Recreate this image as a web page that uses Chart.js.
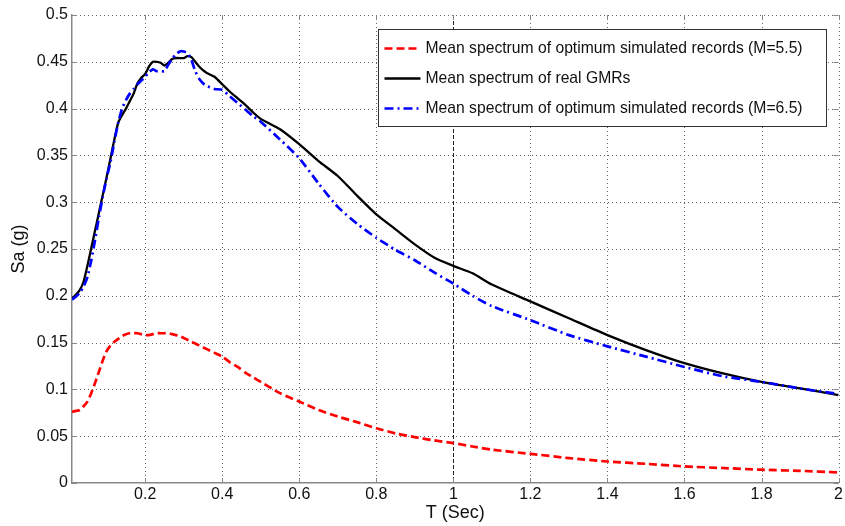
<!DOCTYPE html>
<html><head><meta charset="utf-8">
<script src="https://cdn.jsdelivr.net/npm/chart.js@4/dist/chart.umd.min.js"></script>
<style>html,body{margin:0;padding:0;background:#fff}#wrap{width:845px;height:526px}</style>
</head><body><div id="wrap"><canvas id="c" width="845" height="526"></canvas></div>
<script>
const periods = [0.01,0.02,0.03,0.04,0.05,0.06,0.07,0.08,0.09,0.10,0.11,0.12,0.13,0.14,0.15,0.16,0.17,0.18,0.19,0.20,0.21,0.22,0.23,0.24,0.25,0.26,0.27,0.28,0.29,0.30,0.31,0.32,0.33,0.34,0.35,0.36,0.38,0.40,0.42,0.44,0.46,0.48,0.50,0.55,0.60,0.65,0.70,0.75,0.80,0.85,0.90,0.95,1.00,1.05,1.10,1.20,1.30,1.40,1.50,1.60,1.70,1.80,1.90,2.00];
const saM55 = [0.076,0.077,0.078,0.082,0.087,0.096,0.107,0.119,0.131,0.141,0.147,0.151,0.154,0.157,0.159,0.160,0.160,0.160,0.159,0.158,0.158,0.159,0.160,0.160,0.160,0.160,0.159,0.158,0.157,0.155,0.153,0.151,0.149,0.147,0.145,0.143,0.139,0.135,0.129,0.124,0.118,0.113,0.108,0.096,0.087,0.078,0.071,0.065,0.0585,0.053,0.049,0.0455,0.0426,0.039,0.0356,0.0312,0.0266,0.023,0.0205,0.0177,0.016,0.0142,0.013,0.0113];
const saReal = [0.197,0.201,0.206,0.215,0.232,0.251,0.270,0.289,0.308,0.327,0.347,0.367,0.385,0.393,0.400,0.408,0.416,0.427,0.433,0.437,0.445,0.450,0.450,0.449,0.446,0.449,0.453,0.454,0.454,0.454,0.456,0.455,0.450,0.445,0.441,0.438,0.434,0.426,0.418,0.411,0.404,0.396,0.389,0.378,0.362,0.344,0.328,0.307,0.287,0.271,0.255,0.241,0.232,0.224,0.212,0.194,0.176,0.158,0.142,0.128,0.117,0.108,0.101,0.094];
const saM65 = [0.196,0.199,0.203,0.210,0.220,0.238,0.260,0.284,0.306,0.326,0.343,0.365,0.385,0.400,0.409,0.416,0.421,0.426,0.430,0.434,0.439,0.442,0.440,0.440,0.440,0.447,0.453,0.458,0.461,0.461,0.459,0.452,0.440,0.432,0.427,0.424,0.421,0.420,0.413,0.406,0.399,0.392,0.386,0.367,0.347,0.320,0.295,0.277,0.262,0.249,0.238,0.225,0.213,0.200,0.189,0.174,0.158,0.146,0.135,0.124,0.114,0.108,0.101,0.095];
const xTicks = [0.2,0.4,0.6,0.8,1,1.2,1.4,1.6,1.8,2];
const yTicks = [0,0.05,0.1,0.15,0.2,0.25,0.3,0.35,0.4,0.45,0.5];
const seriesLabels = ['Mean spectrum of optimum simulated records (M=5.5)','Mean spectrum of real GMRs','Mean spectrum of optimum simulated records (M=6.5)'];
const xTitle = 'T (Sec)';
const yTitle = 'Sa (g)';

const FONT = '"Liberation Sans", Arial, sans-serif';
const pts = arr => periods.map((t, i) => ({x: t, y: arr[i]}));

const styles = [
  {color: '#ff0000', width: 2.7, dash: [8, 4]},
  {color: '#000000', width: 2.3, dash: []},
  {color: '#0000ff', width: 2.7, dash: [9, 4, 2, 4]}
];

const gridPlugin = {
  id: 'matlabGrid',
  beforeDatasetsDraw(chart) {
    const {ctx, chartArea: a, scales: {x, y}} = chart;
    ctx.save();
    ctx.lineWidth = 1;
    xTicks.forEach(v => {
      const px = Math.round(x.getPixelForValue(v)) + 0.5;
      if (v === 1) { ctx.strokeStyle = '#222'; ctx.setLineDash([4, 2]); }
      else { ctx.strokeStyle = '#666'; ctx.setLineDash([1, 3]); }
      ctx.beginPath(); ctx.moveTo(px, a.top); ctx.lineTo(px, a.bottom); ctx.stroke();
    });
    ctx.strokeStyle = '#666'; ctx.setLineDash([1, 3]);
    yTicks.forEach(v => {
      if (v === 0) return;
      const py = Math.round(y.getPixelForValue(v)) + 0.5;
      ctx.beginPath(); ctx.moveTo(a.left, py); ctx.lineTo(a.right, py); ctx.stroke();
    });
    ctx.setLineDash([]);
    ctx.strokeStyle = '#888';
    xTicks.forEach(v => {
      const px = Math.round(x.getPixelForValue(v)) + 0.5;
      ctx.beginPath(); ctx.moveTo(px, a.bottom); ctx.lineTo(px, a.bottom - 5); ctx.stroke();
      ctx.beginPath(); ctx.moveTo(px, a.top); ctx.lineTo(px, a.top + 5); ctx.stroke();
    });
    yTicks.forEach(v => {
      const py = Math.round(y.getPixelForValue(v)) + 0.5;
      ctx.beginPath(); ctx.moveTo(a.left, py); ctx.lineTo(a.left + 5, py); ctx.stroke();
      ctx.beginPath(); ctx.moveTo(a.right, py); ctx.lineTo(a.right - 5, py); ctx.stroke();
    });
    ctx.restore();
  }
};

const legendPlugin = {
  id: 'boxLegend',
  afterDatasetsDraw(chart) {
    const {ctx} = chart;
    const bx = 378.5, by = 29.5, bw = 448, bh = 97;
    ctx.save();
    ctx.fillStyle = '#fff';
    ctx.fillRect(bx, by, bw, bh);
    ctx.strokeStyle = '#333';
    ctx.lineWidth = 1;
    ctx.strokeRect(bx, by, bw, bh);
    ctx.font = '15.7px ' + FONT;
    ctx.textBaseline = 'middle';
    ctx.fillStyle = '#111';
    seriesLabels.forEach((lab, i) => {
      const yy = by + 19 + i * 30;
      const s = styles[i];
      ctx.strokeStyle = s.color; ctx.lineWidth = s.width; ctx.setLineDash(s.dash);
      ctx.beginPath(); ctx.moveTo(bx + 6, yy); ctx.lineTo(bx + 42, yy); ctx.stroke();
      ctx.setLineDash([]);
      ctx.fillText(lab, bx + 47, yy);
    });
    ctx.restore();
  }
};

const datasets = [saM55, saReal, saM65].map((arr, i) => ({
  label: seriesLabels[i],
  data: pts(arr),
  borderColor: styles[i].color,
  borderWidth: styles[i].width,
  borderDash: styles[i].dash,
  pointRadius: 0,
  tension: 0.2,
  fill: false,
  order: [2, 1, 0][i]
}));

new Chart(document.getElementById('c'), {
  type: 'line',
  data: {datasets},
  options: {
    responsive: false,
    devicePixelRatio: 1,
    animation: false,
    layout: {padding: {top: 15, right: 3, left: 0, bottom: 0}},
    plugins: {legend: {display: false}, tooltip: {enabled: false}},
    scales: {
      x: {
        type: 'linear', min: 0.01, max: 2,
        afterBuildTicks: s => { s.ticks = xTicks.map(v => ({value: v})); },
        afterFit: s => { s.height = 43; },
        grid: {display: false, drawTicks: false},
        border: {display: true, color: '#888', width: 1.5},
        ticks: {color: '#111', font: {family: FONT, size: 16}, padding: 2, maxRotation: 0, autoSkip: false,
          callback: v => String(v)},
        title: {display: true, text: xTitle, color: '#111', font: {family: FONT, size: 18}, padding: {top: 0, bottom: 2}}
      },
      y: {
        type: 'linear', min: 0, max: 0.5,
        afterBuildTicks: s => { s.ticks = yTicks.map(v => ({value: v})); },
        afterFit: s => { s.width = 72; },
        grid: {display: false, drawTicks: false},
        border: {display: true, color: '#888', width: 1.5},
        ticks: {color: '#111', font: {family: FONT, size: 16}, padding: 4, autoSkip: false,
          callback: v => String(+v.toFixed(2))},
        title: {display: true, text: yTitle, color: '#111', font: {family: FONT, size: 18}, padding: {top: 8, bottom: 0}}
      }
    }
  },
  plugins: [gridPlugin, legendPlugin]
});
</script>
</body></html>
